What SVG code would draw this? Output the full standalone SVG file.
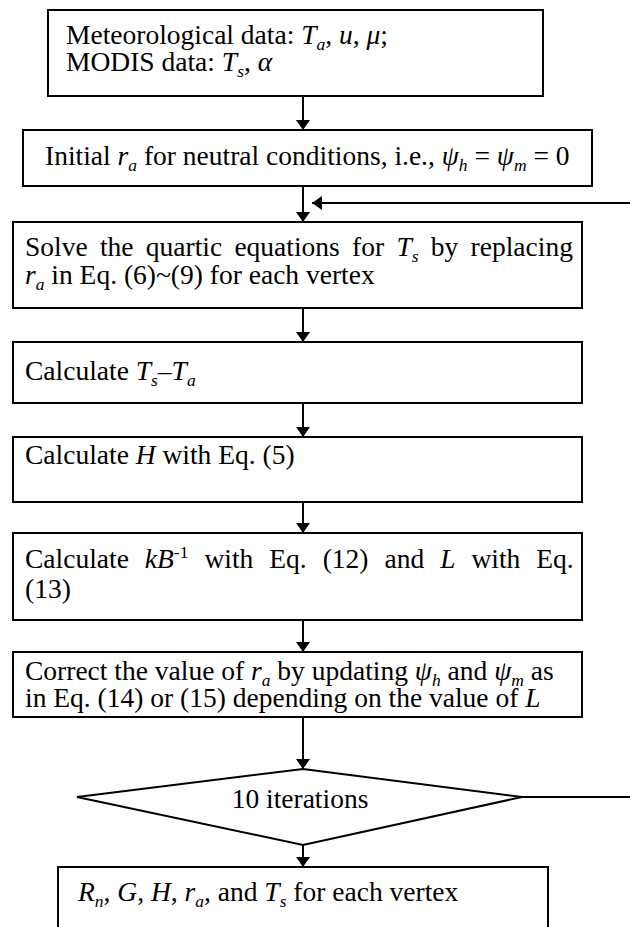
<svg xmlns="http://www.w3.org/2000/svg" width="630" height="927" viewBox="0 0 630 927">
<defs>
<marker id="ah" viewBox="0 0 10 14" refX="10" refY="7" markerWidth="10" markerHeight="14" markerUnits="userSpaceOnUse" orient="auto">
<path d="M0,0 L10,7 L0,14 Z" fill="#000"/>
</marker>
<style>
.box{fill:#fff;stroke:#000;stroke-width:2}
.t{font-family:"Liberation Serif","Times New Roman",serif;font-size:27.5px;fill:#000}
.i{font-style:italic}
.sub{font-size:17.5px;font-style:italic}
.sup{font-size:17.5px}
.c{stroke:#000;stroke-width:2;fill:none}
</style>
</defs>
<rect width="630" height="927" fill="#fff"/>
<g id="connectors">
<line class="c" x1="303" y1="96" x2="303" y2="130" marker-end="url(#ah)"/>
<line class="c" x1="303" y1="186" x2="303" y2="222" marker-end="url(#ah)"/>
<line class="c" x1="630" y1="203" x2="312" y2="203" marker-end="url(#ah)"/>
<line class="c" x1="303" y1="308" x2="303" y2="342" marker-end="url(#ah)"/>
<line class="c" x1="303" y1="403" x2="303" y2="437" marker-end="url(#ah)"/>
<line class="c" x1="303" y1="502" x2="303" y2="533" marker-end="url(#ah)"/>
<line class="c" x1="303" y1="620" x2="303" y2="652" marker-end="url(#ah)"/>
<line class="c" x1="303" y1="717" x2="303" y2="769" marker-end="url(#ah)"/>
<line class="c" x1="303" y1="845" x2="303" y2="867" marker-end="url(#ah)"/>
<line class="c" x1="522" y1="797" x2="630" y2="797"/>
</g>
<g id="n1">
<rect class="box" x="48" y="10" width="495" height="86"/>
<text class="t" x="66" y="44">Meteorological data: <tspan class="i">T</tspan><tspan class="sub" dy="6">a</tspan><tspan dy="-6">, </tspan><tspan class="i">u</tspan>, <tspan class="i">μ</tspan>;</text>
<text class="t" x="66" y="71">MODIS data: <tspan class="i">T</tspan><tspan class="sub" dy="6">s</tspan><tspan dy="-6">, </tspan><tspan class="i">α</tspan></text>
</g>
<g id="n2">
<rect class="box" x="23" y="130" width="569" height="56"/>
<text class="t" x="45" y="165">Initial <tspan class="i">r</tspan><tspan class="sub" dy="6">a</tspan><tspan dy="-6"> for neutral conditions, i.e., </tspan><tspan class="i">ψ</tspan><tspan class="sub" dy="6">h</tspan><tspan dy="-6"> = </tspan><tspan class="i">ψ</tspan><tspan class="sub" dy="6">m</tspan><tspan dy="-6"> = 0</tspan></text>
</g>
<g id="n3">
<rect class="box" x="13" y="222" width="569" height="86"/>
<text class="t" x="25" y="256" word-spacing="5.4">Solve the quartic equations for <tspan class="i">T</tspan><tspan class="sub" dy="6">s</tspan><tspan dy="-6"> by replacing</tspan></text>
<text class="t" x="25" y="284"><tspan class="i">r</tspan><tspan class="sub" dy="6">a</tspan><tspan dy="-6"> in Eq. (6)~(9) for each vertex</tspan></text>
</g>
<g id="n4">
<rect class="box" x="13" y="342" width="569" height="61"/>
<text class="t" x="25" y="380">Calculate <tspan class="i">T</tspan><tspan class="sub" dy="6">s</tspan><tspan dy="-6">–</tspan><tspan class="i">T</tspan><tspan class="sub" dy="6">a</tspan></text>
</g>
<g id="n5">
<rect class="box" x="13" y="437" width="569" height="65"/>
<text class="t" x="25" y="464">Calculate <tspan class="i">H</tspan> with Eq. (5)</text>
</g>
<g id="n6">
<rect class="box" x="13" y="533" width="569" height="87"/>
<text class="t" x="25" y="568" word-spacing="9.1">Calculate <tspan class="i">kB</tspan><tspan class="sup" dy="-10">-1</tspan><tspan dy="10"> with Eq. (12) and </tspan><tspan class="i">L</tspan> with Eq.</text>
<text class="t" x="25" y="598">(13)</text>
</g>
<g id="n7">
<rect class="box" x="13" y="652" width="569" height="65"/>
<text class="t" x="25" y="680">Correct the value of <tspan class="i">r</tspan><tspan class="sub" dy="6">a</tspan><tspan dy="-6"> by updating </tspan><tspan class="i">ψ</tspan><tspan class="sub" dy="6">h</tspan><tspan dy="-6"> and </tspan><tspan class="i">ψ</tspan><tspan class="sub" dy="6">m</tspan><tspan dy="-6"> as</tspan></text>
<text class="t" x="25" y="707">in Eq. (14) or (15) depending on the value of <tspan class="i">L</tspan></text>
</g>
<g id="n8">
<polygon class="box" points="77,797 303,769 522,797 303,845"/>
<text class="t" x="300" y="808" text-anchor="middle">10 iterations</text>
</g>
<g id="n9">
<rect class="box" x="58" y="867" width="490" height="70"/>
<text class="t" x="78" y="901"><tspan class="i">R</tspan><tspan class="sub" dy="6">n</tspan><tspan dy="-6">, </tspan><tspan class="i">G</tspan>, <tspan class="i">H</tspan>, <tspan class="i">r</tspan><tspan class="sub" dy="6">a</tspan><tspan dy="-6">, and </tspan><tspan class="i">T</tspan><tspan class="sub" dy="6">s</tspan><tspan dy="-6"> for each vertex</tspan></text>
</g>
</svg>
